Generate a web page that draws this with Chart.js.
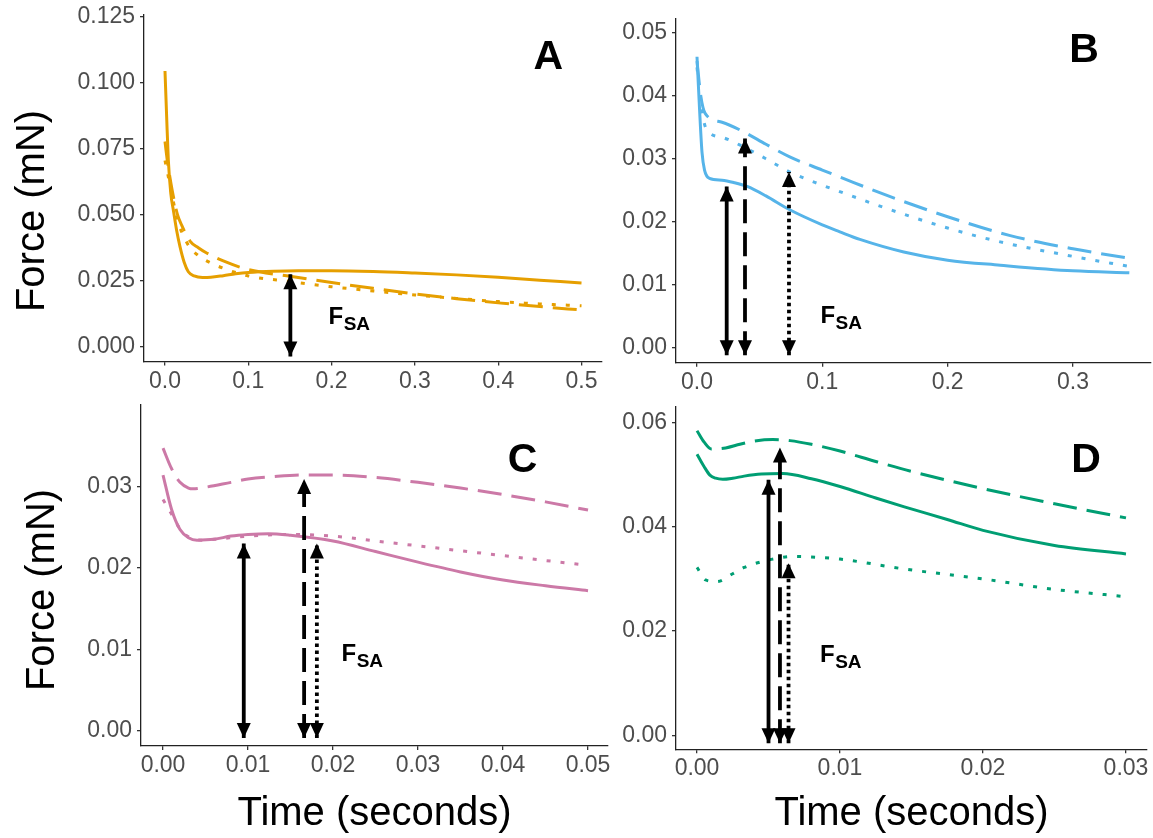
<!DOCTYPE html>
<html>
<head>
<meta charset="utf-8">
<script src="https://cdn.jsdelivr.net/npm/chart.js@4.4.1/dist/chart.umd.min.js"></script>
<style>
html,body{margin:0;padding:0;background:#ffffff;}
body{width:1153px;height:838px;position:relative;overflow:hidden;}
canvas{position:absolute;}
</style>
</head>
<body>
<canvas id="cA" width="614" height="400" style="left:0px;top:0px"></canvas>
<canvas id="cB" width="539" height="400" style="left:614px;top:0px"></canvas>
<canvas id="cC" width="614" height="438" style="left:0px;top:400px"></canvas>
<canvas id="cD" width="539" height="438" style="left:614px;top:400px"></canvas>
<script>
// ---------------- DATA ----------------
// Panel A (time in s, force in mN)
const A_t_solid = [0, 0.002, 0.004, 0.007, 0.01, 0.014, 0.018, 0.023, 0.028, 0.035, 0.045, 0.055, 0.07, 0.085, 0.1, 0.13, 0.16, 0.2, 0.25, 0.3, 0.35, 0.4, 0.45, 0.5];
const A_f_solid = [0.1044, 0.087, 0.0707, 0.058, 0.0518, 0.0440, 0.0379, 0.0320, 0.0284, 0.0268, 0.0262, 0.0263, 0.0269, 0.0276, 0.0281, 0.0286, 0.0288, 0.0288, 0.0285, 0.0279, 0.0272, 0.0263, 0.0252, 0.0241];
const A_t_dash  = [0, 0.003, 0.006, 0.01, 0.015, 0.02, 0.03, 0.04, 0.05, 0.07, 0.1, 0.15, 0.2, 0.25, 0.3, 0.35, 0.4, 0.45, 0.5];
const A_f_dash  = [0.0777, 0.070, 0.064, 0.057, 0.050, 0.046, 0.040, 0.0375, 0.0355, 0.0325, 0.0292, 0.0267, 0.0243, 0.0221, 0.0200, 0.0182, 0.0166, 0.0152, 0.0139];
const A_t_dot   = [0, 0.003, 0.006, 0.01, 0.015, 0.02, 0.03, 0.04, 0.05, 0.07, 0.1, 0.15, 0.2, 0.25, 0.3, 0.35, 0.4, 0.45, 0.5];
const A_f_dot   = [0.0705, 0.066, 0.061, 0.055, 0.048, 0.0435, 0.0375, 0.0345, 0.0325, 0.0297, 0.0268, 0.0247, 0.0227, 0.0211, 0.0196, 0.0183, 0.0171, 0.0162, 0.0155];
const A_arrowTime   = [0.1505];
const A_arrowTop    = [0.0274];
const A_arrowBottom = [-0.0037];
const A_arrowKind   = ['solid'];
const A_xTicks = [0, 0.1, 0.2, 0.3, 0.4, 0.5];
const A_yTicks = [0, 0.025, 0.05, 0.075, 0.1, 0.125];

// Panel B
const B_t_solid = [0, 0.002, 0.004, 0.006, 0.01, 0.02, 0.03, 0.04, 0.055, 0.074, 0.1, 0.114, 0.13, 0.165, 0.2, 0.242, 0.3, 0.345];
const B_f_solid = [0.0462, 0.0380, 0.0310, 0.0282, 0.0269, 0.0266, 0.0262, 0.0256, 0.0241, 0.0219, 0.0195, 0.0184, 0.0172, 0.0152, 0.0139, 0.0131, 0.0122, 0.0119];
const B_t_dash  = [0, 0.003, 0.0065, 0.02, 0.037, 0.055, 0.074, 0.1, 0.114, 0.15, 0.2, 0.25, 0.3, 0.345];
const B_f_dash  = [0.0455, 0.0400, 0.0372, 0.0358, 0.0343, 0.0323, 0.0303, 0.0282, 0.0271, 0.0243, 0.0208, 0.0178, 0.0157, 0.0142];
const B_t_dot   = [0, 0.003, 0.0072, 0.02, 0.034, 0.055, 0.074, 0.1, 0.111, 0.15, 0.2, 0.242, 0.3, 0.345];
const B_f_dot   = [0.0445, 0.0390, 0.0348, 0.0334, 0.0322, 0.0300, 0.0279, 0.0258, 0.0250, 0.0222, 0.0190, 0.0168, 0.0145, 0.0129];
const B_arrowTime   = [0.0237, 0.0383, 0.0734];
const B_arrowTop    = [0.0256, 0.0332, 0.0279];
const B_arrowBottom = [-0.0012, -0.0012, -0.0012];
const B_arrowKind   = ['solid', 'dashed', 'dotted'];
const B_xTicks = [0, 0.1, 0.2, 0.3];
const B_yTicks = [0, 0.01, 0.02, 0.03, 0.04, 0.05];

// Panel C
const C_t_solid = [0, 0.001, 0.002, 0.003, 0.004, 0.006, 0.008, 0.01, 0.0124, 0.015, 0.02, 0.025, 0.03, 0.035, 0.04, 0.045, 0.05];
const C_f_solid = [0.0314, 0.0272, 0.0247, 0.0237, 0.0234, 0.0235, 0.0239, 0.0241, 0.0242, 0.0240, 0.0233, 0.0220, 0.0207, 0.0195, 0.0185, 0.0178, 0.0172];
const C_t_dash  = [0, 0.001, 0.002, 0.003, 0.0035, 0.005, 0.008, 0.01, 0.013, 0.0165, 0.02, 0.025, 0.03, 0.035, 0.04, 0.045, 0.05];
const C_f_dash  = [0.0347, 0.0322, 0.0305, 0.0298, 0.0297, 0.0299, 0.0305, 0.0309, 0.0312, 0.0314, 0.0314, 0.0311, 0.0305, 0.0298, 0.0290, 0.0281, 0.0271];
const C_t_dot   = [0, 0.001, 0.002, 0.003, 0.0045, 0.006, 0.01, 0.015, 0.02, 0.025, 0.03, 0.035, 0.04, 0.045, 0.05];
const C_f_dot   = [0.0284, 0.0266, 0.0248, 0.0238, 0.0234, 0.0235, 0.0239, 0.0241, 0.0239, 0.0233, 0.0227, 0.0221, 0.0215, 0.0209, 0.0203];
const C_arrowTime   = [0.0095, 0.0166, 0.0181];
const C_arrowTop    = [0.0230, 0.0309, 0.0230];
const C_arrowBottom = [-0.0009, -0.0009, -0.0009];
const C_arrowKind   = ['solid', 'dashed', 'dotted'];
const C_xTicks = [0, 0.01, 0.02, 0.03, 0.04, 0.05];
const C_yTicks = [0, 0.01, 0.02, 0.03];

// Panel D
const D_t_solid = [0, 0.0005, 0.0009, 0.0013, 0.0018, 0.0025, 0.0033, 0.0045, 0.006, 0.008, 0.01, 0.0125, 0.0145, 0.0175, 0.02, 0.025, 0.03];
const D_f_solid = [0.0539, 0.0515, 0.0499, 0.0493, 0.0491, 0.0493, 0.0497, 0.0501, 0.0502, 0.0492, 0.0477, 0.0455, 0.0438, 0.0414, 0.0393, 0.0364, 0.0348];
const D_t_dash  = [0, 0.0005, 0.001, 0.002, 0.003, 0.004, 0.0053, 0.0065, 0.008, 0.01, 0.0125, 0.015, 0.0175, 0.02, 0.025, 0.03];
const D_f_dash  = [0.0584, 0.0562, 0.0549, 0.0551, 0.0558, 0.0564, 0.0567, 0.0565, 0.0558, 0.0545, 0.0525, 0.0506, 0.0489, 0.0473, 0.0444, 0.0417];
const D_t_dot   = [0, 0.0006, 0.0014, 0.0025, 0.0033, 0.0045, 0.0055, 0.0067, 0.008, 0.01, 0.0145, 0.02, 0.025, 0.03];
const D_f_dot   = [0.0322, 0.0298, 0.0295, 0.0310, 0.0322, 0.0333, 0.0339, 0.0343, 0.0342, 0.0338, 0.0319, 0.0300, 0.0280, 0.0266];
const D_arrowTime   = [0.0050, 0.0058, 0.0064];
const D_arrowTop    = [0.0490, 0.0552, 0.0330];
const D_arrowBottom = [-0.0015, -0.0015, -0.0015];
const D_arrowKind   = ['solid', 'dashed', 'dotted'];
const D_xTicks = [0, 0.01, 0.02, 0.03];
const D_yTicks = [0, 0.02, 0.04, 0.06];

// ---------------- STYLE / RENDER ----------------
const FONT = '"Liberation Sans", Arial, Helvetica, sans-serif';
const CURVE_DASH = { solid: [], dashed: [24, 10], dotted: [4, 10] };
const ARROW_DASH = { solid: [], dashed: [24, 9], dotted: [3.5, 3.5] };

function pts(t, f) { return t.map((x, i) => ({ x: x, y: f[i] })); }

const annotPlugin = {
  id: 'annot',
  afterDatasetsDraw(chart, args, o) {
    const ctx = chart.ctx;
    const xs = chart.scales.x, ys = chart.scales.y;
    ctx.save();
    ctx.fillStyle = '#000';
    // arrow heads
    chart.data.datasets.forEach((ds, i) => {
      if (!ds.isArrow) return;
      const meta = chart.getDatasetMeta(i);
      const pb = meta.data[0], pt = meta.data[1];
      const hw = 7, hl = 15;
      ctx.beginPath();
      ctx.moveTo(pt.x, pt.y); ctx.lineTo(pt.x - hw, pt.y + hl); ctx.lineTo(pt.x + hw, pt.y + hl); ctx.closePath(); ctx.fill();
      ctx.beginPath();
      ctx.moveTo(pb.x, pb.y); ctx.lineTo(pb.x - hw, pb.y - hl); ctx.lineTo(pb.x + hw, pb.y - hl); ctx.closePath(); ctx.fill();
    });
    // panel letter
    if (o.letter) {
      const lx = xs.getPixelForValue(o.letter.x), ly = ys.getPixelForValue(o.letter.y);
      ctx.font = 'bold 41px ' + FONT;
      ctx.textAlign = 'center'; ctx.textBaseline = 'alphabetic';
      ctx.fillText(o.letter.text, lx, ly + 0.358 * 41);
    }
    // F_SA label
    if (o.fsa) {
      const fx = xs.getPixelForValue(o.fsa.x), fy = ys.getPixelForValue(o.fsa.y);
      ctx.textAlign = 'left'; ctx.textBaseline = 'alphabetic';
      ctx.font = 'bold 24px ' + FONT;
      ctx.fillText('F', fx, fy);
      const w = ctx.measureText('F').width;
      ctx.font = 'bold 19px ' + FONT;
      ctx.fillText('SA', fx + w + 0.5, fy + 6);
    }
    // y axis title
    if (o.ytitle) {
      ctx.translate(o.ytitle.px, o.ytitle.py);
      ctx.rotate(-Math.PI / 2);
      ctx.font = '40px ' + FONT;
      ctx.textAlign = 'center'; ctx.textBaseline = 'middle';
      ctx.fillText(o.ytitle.text, 0, 0);
    }
    ctx.restore();
  }
};

function makePanel(id, p) {
  const datasets = [];
  p.arrowTime.forEach((t, i) => {
    datasets.push({
      isArrow: true, order: 0,
      data: [{ x: t, y: p.arrowBottom[i] }, { x: t, y: p.arrowTop[i] }],
      borderColor: '#000000', borderWidth: 3.8, borderDash: ARROW_DASH[p.arrowKind[i]],
      borderCapStyle: 'butt', pointRadius: 0, fill: false, tension: 0
    });
  });
  p.series.forEach(s => {
    datasets.push({
      order: 1,
      data: pts(s.t, s.f),
      borderColor: p.color, borderWidth: 3, borderDash: CURVE_DASH[s.kind],
      borderCapStyle: 'butt', pointRadius: 0, fill: false, cubicInterpolationMode: 'monotone'
    });
  });
  const tickFont = { family: FONT, size: 23 };
  const xTitle = p.xTitle ? {
    display: true, text: p.xTitle, color: '#000000',
    font: { family: FONT, size: 40 }, padding: { top: 0, bottom: p.xTitlePad }
  } : { display: false };
  new Chart(document.getElementById(id), {
    type: 'line',
    data: { datasets: datasets },
    options: {
      responsive: false, animation: false, devicePixelRatio: 1,
      layout: { padding: p.pad },
      plugins: { legend: { display: false }, tooltip: { enabled: false }, annot: p.annot },
      scales: {
        x: {
          type: 'linear', min: p.xRange[0], max: p.xRange[1],
          afterBuildTicks: sc => { sc.ticks = p.xTicks.map(v => ({ value: v })); },
          afterFit: sc => { sc.height = p.xH; sc.paddingLeft = 0; sc.paddingRight = 0; },
          ticks: { autoSkip: false, maxRotation: 0, minRotation: 0, padding: 2, color: '#4D4D4D', font: tickFont,
                   callback: v => Number(v).toFixed(p.xDec) },
          grid: { display: true, drawOnChartArea: false, drawTicks: true, tickLength: 4, color: '#333333', lineWidth: 1.3 },
          border: { display: true, color: '#222222', width: 1.3 },
          title: xTitle
        },
        y: {
          type: 'linear', min: p.yRange[0], max: p.yRange[1],
          afterBuildTicks: sc => { sc.ticks = p.yTicks.map(v => ({ value: v })); },
          afterFit: sc => { sc.width = p.yW; sc.paddingTop = 0; sc.paddingBottom = 0; },
          ticks: { autoSkip: false, padding: 5, color: '#4D4D4D', font: tickFont,
                   callback: v => Number(v).toFixed(p.yDec) },
          grid: { display: true, drawOnChartArea: false, drawTicks: true, tickLength: 4, color: '#333333', lineWidth: 1.3 },
          border: { display: true, color: '#222222', width: 1.3 }
        }
      }
    },
    plugins: [annotPlugin]
  });
}

makePanel('cA', {
  color: '#E69F00',
  series: [
    { t: A_t_solid, f: A_f_solid, kind: 'solid' },
    { t: A_t_dash, f: A_f_dash, kind: 'dashed' },
    { t: A_t_dot, f: A_f_dot, kind: 'dotted' }
  ],
  arrowTime: A_arrowTime, arrowTop: A_arrowTop, arrowBottom: A_arrowBottom, arrowKind: A_arrowKind,
  xTicks: A_xTicks, yTicks: A_yTicks, xDec: 1, yDec: 3,
  xRange: [-0.0252, 0.5246], yRange: [-0.0056, 0.1256],
  pad: { left: 0, top: 15, right: 12, bottom: 0 }, yW: 144, xH: 38.5,
  annot: { letter: { text: 'A', x: 0.46, y: 0.1109 }, fsa: { x: 0.1963, y: 0.0086 },
           ytitle: { text: 'Force (mN)', px: 33, py: 211 } }
});
makePanel('cB', {
  color: '#56B4E9',
  series: [
    { t: B_t_solid, f: B_f_solid, kind: 'solid' },
    { t: B_t_dash, f: B_f_dash, kind: 'dashed' },
    { t: B_t_dot, f: B_f_dot, kind: 'dotted' }
  ],
  arrowTime: B_arrowTime, arrowTop: B_arrowTop, arrowBottom: B_arrowBottom, arrowKind: B_arrowKind,
  xTicks: B_xTicks, yTicks: B_yTicks, xDec: 1, yDec: 2,
  xRange: [-0.01676, 0.3623], yRange: [-0.00238, 0.0523],
  pad: { left: 0, top: 18.3, right: 2, bottom: 0 }, yW: 62, xH: 37.3,
  annot: { letter: { text: 'B', x: 0.3089, y: 0.0477 }, fsa: { x: 0.0985, y: 0.0039 } }
});
makePanel('cC', {
  color: '#CC79A7',
  series: [
    { t: C_t_solid, f: C_f_solid, kind: 'solid' },
    { t: C_t_dash, f: C_f_dash, kind: 'dashed' },
    { t: C_t_dot, f: C_f_dot, kind: 'dotted' }
  ],
  arrowTime: C_arrowTime, arrowTop: C_arrowTop, arrowBottom: C_arrowBottom, arrowKind: C_arrowKind,
  xTicks: C_xTicks, yTicks: C_yTicks, xDec: 2, yDec: 2,
  xRange: [-0.00259, 0.05235], yRange: [-0.00188, 0.0400],
  pad: { left: 0, top: 5, right: 6, bottom: 0 }, yW: 141, xH: 92,
  xTitle: 'Time (seconds)', xTitlePad: 0,
  annot: { letter: { text: 'C', x: 0.0423, y: 0.0336 }, fsa: { x: 0.021, y: 0.0085 },
           ytitle: { text: 'Force (mN)', px: 42.5, py: 190 } }
});
makePanel('cD', {
  color: '#009E73',
  series: [
    { t: D_t_solid, f: D_f_solid, kind: 'solid' },
    { t: D_t_dash, f: D_f_dash, kind: 'dashed' },
    { t: D_t_dot, f: D_f_dot, kind: 'dotted' }
  ],
  arrowTime: D_arrowTime, arrowTop: D_arrowTop, arrowBottom: D_arrowBottom, arrowKind: D_arrowKind,
  xTicks: D_xTicks, yTicks: D_yTicks, xDec: 2, yDec: 2,
  xRange: [-0.00147, 0.03147], yRange: [-0.00264, 0.0630],
  pad: { left: 0, top: 6.7, right: 6, bottom: 0 }, yW: 62, xH: 88.7,
  xTitle: 'Time (seconds)', xTitlePad: 0,
  annot: { letter: { text: 'D', x: 0.0272, y: 0.0533 }, fsa: { x: 0.0086, y: 0.0140 } }
});
</script>
</body>
</html>
